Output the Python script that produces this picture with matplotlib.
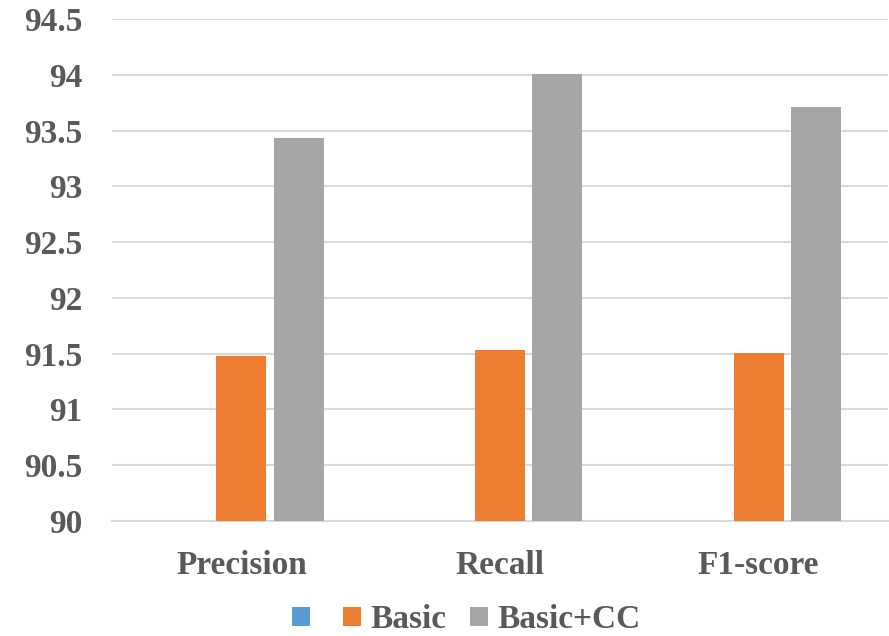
import numpy as np
import matplotlib
matplotlib.use("Agg")
import matplotlib.pyplot as plt
from matplotlib.patches import Patch

categories = ["Precision", "Recall", "F1-score"]
series_names = ["", "Basic", "Basic+CC"]
blank = [90.0, 90.0, 90.0]
basic = [91.48, 91.53, 91.51]
basic_cc = [93.43, 94.01, 93.71]
colors = ["#5b9bd5", "#ed7d31", "#a5a5a5"]
yticks = np.arange(90, 94.51, 0.5)

plt.rcParams["font.family"] = ["Liberation Serif", "DejaVu Serif"]
plt.rcParams["font.weight"] = "bold"
text_color = "#595959"

fig = plt.figure(figsize=(8.89, 6.36), dpi=100)
ax = fig.add_axes([112 / 889, 1 - 521 / 636, 776 / 889, 502 / 636])

x = np.arange(len(categories))
width = 0.193
step = 0.222
for k, (vals, c) in enumerate(zip([blank, basic, basic_cc], colors)):
    ax.bar(x + (k - 1) * step, np.array(vals) - 90, bottom=90, width=width,
           color=c, zorder=3)

ax.set_xlim(-0.5, 2.5)
ax.set_ylim(90, 94.5)
ax.set_yticks(yticks)
ax.set_yticklabels(["%g" % t for t in yticks])
ax.set_xticks(x)
ax.set_xticklabels(categories)
ax.grid(axis="y", color="#d9d9d9", linewidth=1.5, zorder=0)
for s in ["top", "left", "right"]:
    ax.spines[s].set_visible(False)
ax.spines["bottom"].set_color("#d9d9d9")
ax.spines["bottom"].set_linewidth(1.5)
ax.tick_params(axis="both", length=0, labelsize=24, colors=text_color)
ax.tick_params(axis="y", pad=21.5)
ax.tick_params(axis="x", pad=21)

handles = [Patch(facecolor=c) for c in colors]
fig.legend(handles, series_names, loc="lower center", bbox_to_anchor=(0.525, -0.046),
           ncol=3, frameon=False, fontsize=24, handlelength=0.53, handleheight=0.53,
           handletextpad=0.3, columnspacing=0.7, labelcolor=text_color)

fig.savefig("out.png", dpi=100)
